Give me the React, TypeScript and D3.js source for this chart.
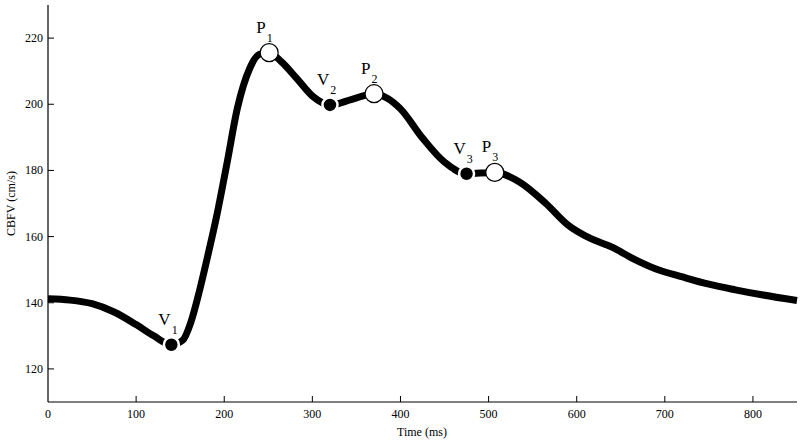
import React from "react";
import * as d3 from "d3";

// waveform (ms, cm/s)
const timeMs = [0, 25, 50, 75, 100, 120, 140, 153, 162, 172, 182, 191, 203, 215, 229, 240, 251, 265, 282, 300, 320, 345, 370, 385, 400, 425, 450, 475, 507, 535, 565, 590, 615, 640, 665, 690, 720, 750, 780, 810, 850];
const cbfv = [141.2, 140.8, 139.7, 137.2, 133.4, 130, 127.3, 128.7, 134, 143.7, 155, 165.7, 182, 198.9, 210.9, 215.1, 215.6, 212.8, 207.9, 202.5, 199.8, 201.5, 203.2, 201.8, 198.6, 189.8, 182.5, 179, 179.4, 176.5, 170, 163.5, 159.5, 156.8, 153.2, 150.2, 147.8, 145.6, 143.9, 142.4, 140.7];

// landmarks: valleys (filled) and peaks (open)
const markNames = ["V", "P", "V", "P", "V", "P"];
const markIdx = ["1", "1", "2", "2", "3", "3"];
const markTime = [140, 251, 320, 370, 475, 507];
const markValue = [127.3, 215.6, 199.8, 203.2, 179, 179.4];

const xTicks = [0, 100, 200, 300, 400, 500, 600, 700, 800];
const yTicks = [120, 140, 160, 180, 200, 220];

const W = 800, H = 443;
const serif = "'Liberation Serif', 'Times New Roman', serif";

export default function App() {
  const x = d3.scaleLinear().domain([0, 850]).range([48, 797]);
  const y = d3.scaleLinear().domain([110, 230]).range([402, 5]);

  const line = d3.line<number>()
    .x((_, i) => x(timeMs[i]))
    .y((d) => y(d))
    .curve(d3.curveMonotoneX);

  return (
    <svg width={W} height={H} style={{ position: "absolute", left: 0, top: 0, background: "#fff" }}>
      {/* axes */}
      <line x1={x(0)} x2={x(0)} y1={y(230)} y2={y(110)} stroke="#000" strokeWidth={1.2} />
      <line x1={x(0)} x2={x(850)} y1={y(110)} y2={y(110)} stroke="#000" strokeWidth={1.2} />
      {xTicks.map((t) => (
        <g key={"x" + t}>
          {t > 0 && <line x1={x(t)} x2={x(t)} y1={y(110)} y2={y(110) - 6} stroke="#000" strokeWidth={1} />}
          <text x={x(t)} y={418} textAnchor="middle" fontFamily={serif} fontSize={12} fill="#000">{t}</text>
        </g>
      ))}
      {yTicks.map((v) => (
        <g key={"y" + v}>
          <line x1={x(0)} x2={x(0) + 6} y1={y(v)} y2={y(v)} stroke="#000" strokeWidth={1} />
          <text x={43} y={y(v) + 4} textAnchor="end" fontFamily={serif} fontSize={12} fill="#000">{v}</text>
        </g>
      ))}
      <text x={422} y={436} textAnchor="middle" fontFamily={serif} fontSize={12} fill="#000">Time (ms)</text>
      <text transform={`translate(15,${(y(230) + y(110)) / 2}) rotate(-90)`} textAnchor="middle" fontFamily={serif} fontSize={12} fill="#000">CBFV (cm/s)</text>

      {/* waveform */}
      <path d={line(cbfv) ?? ""} fill="none" stroke="#000" strokeWidth={7} strokeLinejoin="round" />

      {/* landmarks */}
      {markTime.map((t, i) => {
        const cx = x(t), cy = y(markValue[i]);
        const peak = markNames[i] === "P";
        return (
          <g key={"m" + i}>
            {peak ? (
              <circle cx={cx} cy={cy} r={9} fill="#fff" stroke="#000" strokeWidth={1.2} />
            ) : (
              <circle cx={cx} cy={cy} r={7.5} fill="#000" stroke="#fff" strokeWidth={2.5} />
            )}
            <text x={cx - 13} y={cy - 20} fontFamily={serif} fontSize={17} fill="#000">
              {markNames[i]}
              <tspan dx={1} dy={9} fontSize={12}>{markIdx[i]}</tspan>
            </text>
          </g>
        );
      })}
    </svg>
  );
}
